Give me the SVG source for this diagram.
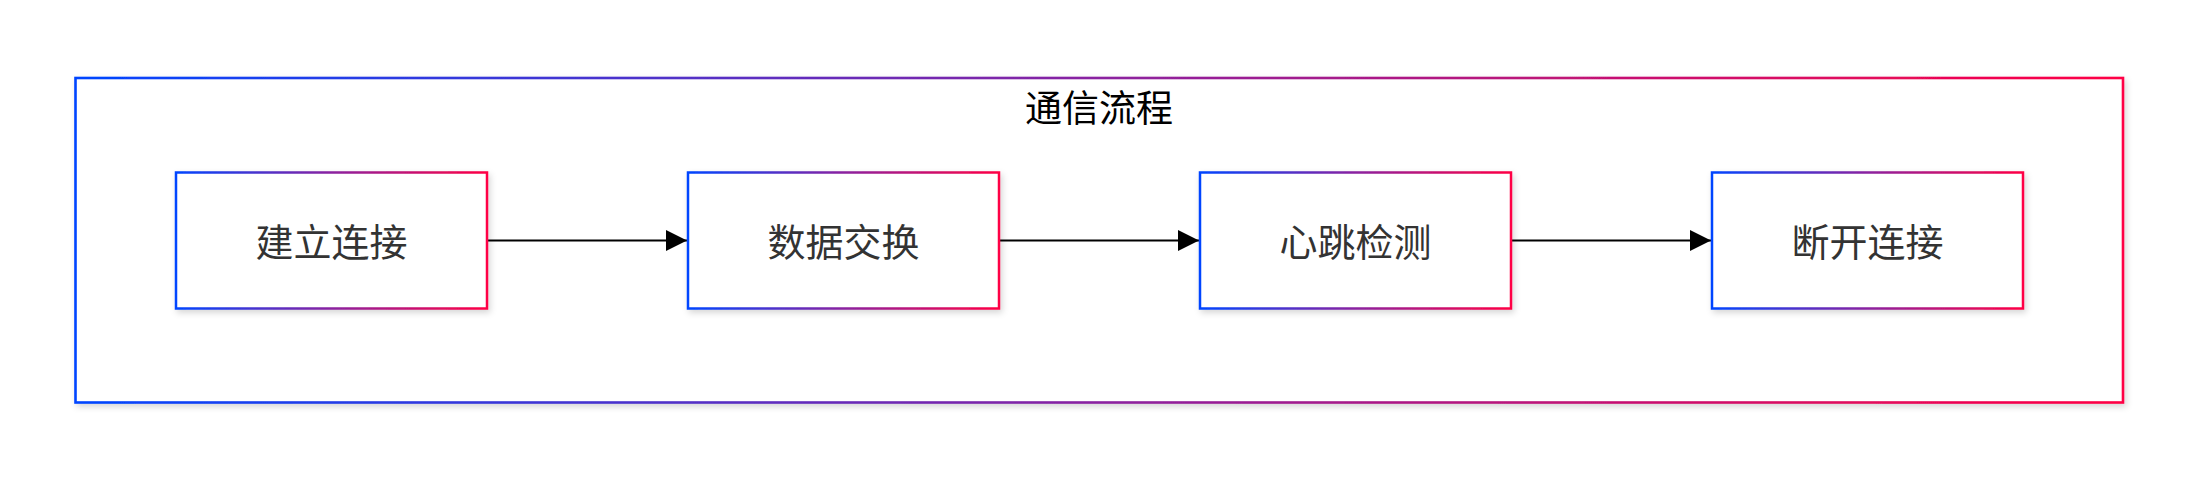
<svg xmlns="http://www.w3.org/2000/svg" width="2192" height="488" viewBox="0 0 2192 488">
<style>
.node rect{fill:#ffffff;stroke:url(#grad);stroke-width:2.5;filter:url(#shadow)}
.node text{font-family:"Noto Sans CJK SC","Microsoft YaHei",sans-serif;font-size:38px;fill:#333333;text-anchor:middle;dominant-baseline:central}
.cluster rect{fill:#ffffff;stroke:url(#grad);stroke-width:2.6;filter:url(#shadow)}
.cluster text{font-family:"Noto Sans CJK SC","Microsoft YaHei",sans-serif;font-size:37px;fill:#000000;text-anchor:middle;dominant-baseline:central}
.edge{fill:none;stroke:#000000;stroke-width:2.2;marker-end:url(#arrow)}
</style>
<defs>
<linearGradient id="grad" x1="0" y1="0" x2="1" y2="0">
<stop offset="0" stop-color="#0045ff"/>
<stop offset="0.5" stop-color="#8a22a0"/>
<stop offset="1" stop-color="#ff0044"/>
</linearGradient>
<filter id="shadow" x="-10%" y="-20%" width="120%" height="140%">
<feDropShadow dx="2" dy="3" stdDeviation="3" flood-color="#000000" flood-opacity="0.16"/>
</filter>
<marker id="arrow" viewBox="0 0 10 10" refX="10" refY="5" markerUnits="userSpaceOnUse" markerWidth="21" markerHeight="21" orient="auto">
<path d="M0,0 L10,5 L0,10 z" fill="#000000"/>
</marker>
</defs>
<rect width="2192" height="488" fill="#ffffff"/>
<g id="cluster-communication" class="cluster">
<rect x="75.5" y="78" width="2047.5" height="324.5"/>
<text x="1099" y="106">通信流程</text>
</g>
<g id="connectors">
<line class="edge" x1="487.5" y1="240.5" x2="687" y2="240.5"/>
<line class="edge" x1="999.5" y1="240.5" x2="1199" y2="240.5"/>
<line class="edge" x1="1511.5" y1="240.5" x2="1711" y2="240.5"/>
</g>
<g id="node-connect" class="node">
<rect x="176" y="172.5" width="311" height="136"/>
<text x="331.5" y="239">建立连接</text>
</g>
<g id="node-exchange" class="node">
<rect x="688" y="172.5" width="311" height="136"/>
<text x="843.5" y="239">数据交换</text>
</g>
<g id="node-heartbeat" class="node">
<rect x="1200" y="172.5" width="311" height="136"/>
<text x="1355.5" y="239">心跳检测</text>
</g>
<g id="node-disconnect" class="node">
<rect x="1712" y="172.5" width="311" height="136"/>
<text x="1867.5" y="239">断开连接</text>
</g>
</svg>
